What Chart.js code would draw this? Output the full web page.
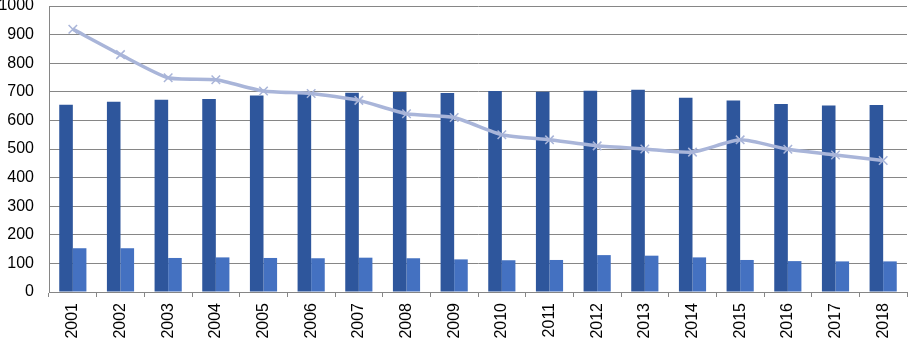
<!DOCTYPE html>
<html>
<head>
<meta charset="utf-8">
<script src="https://cdn.jsdelivr.net/npm/chart.js@4/dist/chart.umd.min.js"></script>
<style>
  html, body { margin: 0; padding: 0; background: #fff; }
  #wrap { width: 909px; height: 339px; }
</style>
</head>
<body>
<div id="wrap"><canvas id="grafico" width="909" height="339"></canvas></div>
<script>
const anos = ["2001","2002","2003","2004","2005","2006","2007","2008","2009","2010","2011","2012","2013","2014","2015","2016","2017","2018"];
const serieAlta = [655, 665, 672, 675, 687, 692, 697, 699, 696, 703, 700, 704, 707, 679, 670, 657, 652, 654];
const serieBaixa = [153, 153, 119, 121, 119, 118, 120, 118, 114, 111, 112, 129, 127, 121, 112, 108, 107, 107];
const serieLinha = [919, 830, 749, 742, 703, 694, 670, 623, 610, 550, 532, 511, 500, 489, 532, 499, 479, 460];
const ticksY = [0, 100, 200, 300, 400, 500, 600, 700, 800, 900, 1000];

const corGrade = "#868686";
const fonte = { family: "'Liberation Sans', Arial, sans-serif", size: 16 };

new Chart(document.getElementById("grafico"), {
    type: "bar",
    data: {
        labels: anos,
        datasets: [
            {
                type: "line",
                data: serieLinha,
                borderColor: "#a9b5d9",
                borderWidth: 3.5,
                tension: 0.2,
                pointStyle: "crossRot",
                pointRadius: 6,
                pointBorderWidth: 1.5,
                pointBorderColor: "#a9b5d9",
                order: 0
            },
            {
                data: serieAlta,
                backgroundColor: "#2e569c",
                order: 1
            },
            {
                data: serieBaixa,
                backgroundColor: "#4471c1",
                order: 1
            }
        ]
    },
    options: {
        responsive: false,
        animation: false,
        layout: { autoPadding: false, padding: { top: 6, right: 2, left: 0, bottom: 0 } },
        datasets: { bar: { categoryPercentage: 0.57, barPercentage: 1.0 } },
        plugins: { legend: { display: false }, tooltip: { enabled: false } },
        scales: {
            x: {
                grid: { offset: true, drawOnChartArea: false, color: corGrade, tickLength: 5 },
                border: { color: corGrade },
                ticks: { color: "#000", font: fonte, maxRotation: 90, minRotation: 90, padding: 6 },
                afterFit: (s) => { s.height = 47; s.paddingLeft = 0; s.paddingRight = 0; }
            },
            y: {
                min: 0,
                max: 1000,
                afterBuildTicks: (s) => { s.ticks = ticksY.map(v => ({ value: v })); },
                grid: { color: corGrade, drawTicks: false },
                border: { color: corGrade },
                ticks: { color: "#000", font: fonte, padding: 15, callback: (v) => String(v) },
                afterFit: (s) => { s.width = 49; s.paddingTop = 0; s.paddingBottom = 0; }
            }
        }
    }
});
</script>
</body>
</html>
